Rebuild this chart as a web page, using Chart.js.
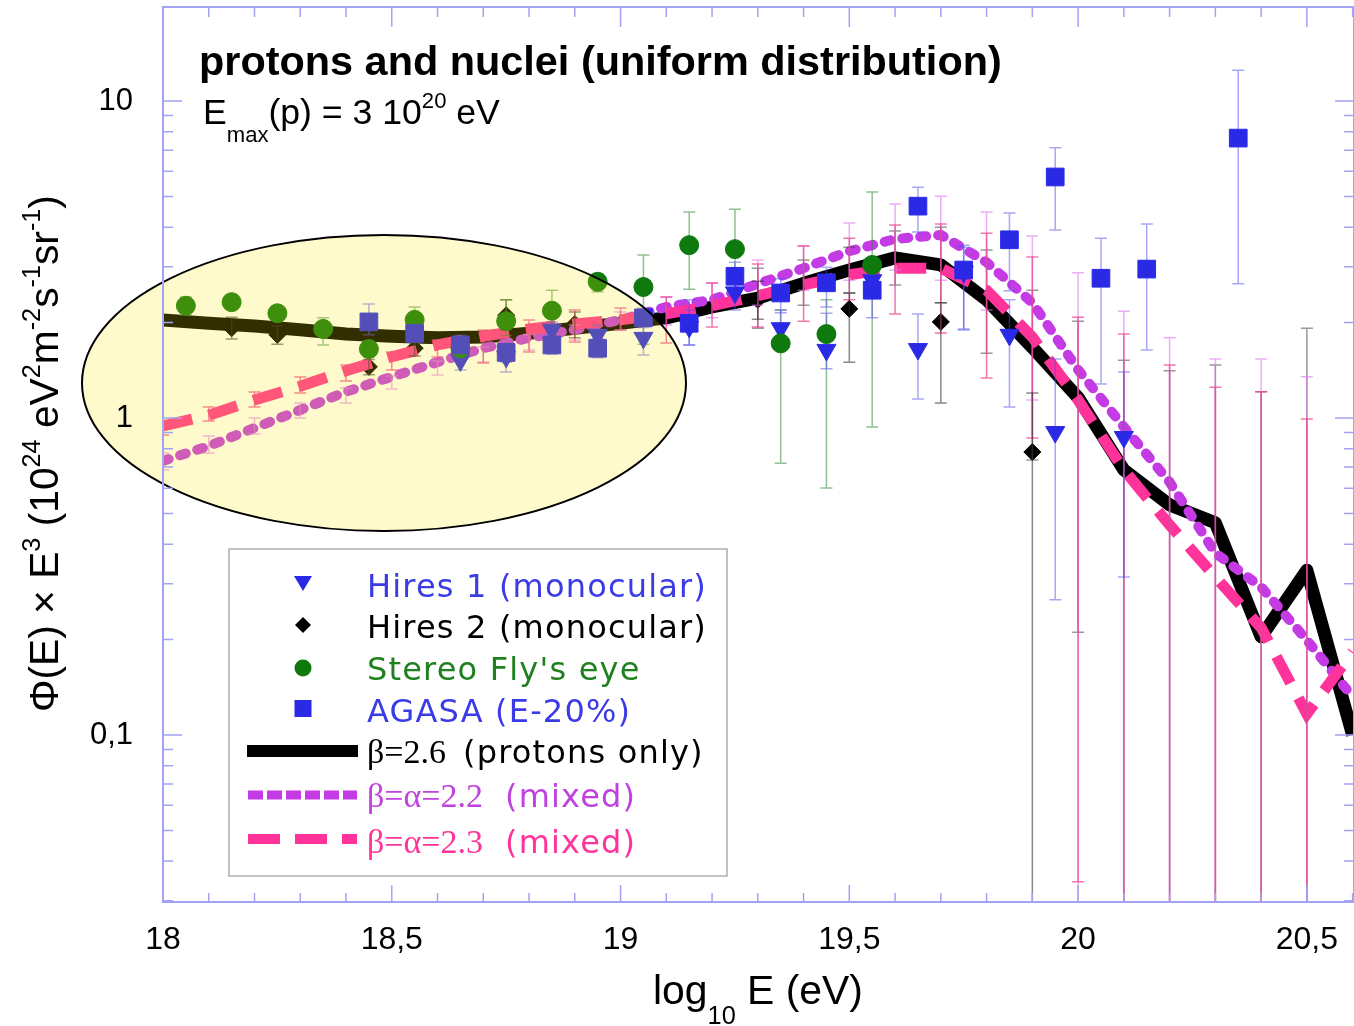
<!DOCTYPE html>
<html>
<head>
<meta charset="utf-8">
<script src="https://cdn.jsdelivr.net/npm/chart.js@4.4.0/dist/chart.umd.min.js"></script>
<style>
  html, body { margin: 0; padding: 0; background: #fff; }
</style>
</head>
<body>
<canvas id="grafico" width="1354" height="1026"></canvas>
<script>
// ====== DATA ======
// model grid, log10 E (eV)
const gridE = [18.0, 18.1, 18.2, 18.3, 18.4, 18.5, 18.6, 18.7, 18.8, 18.9,
  19.0, 19.1, 19.2, 19.3, 19.4, 19.5, 19.6, 19.7, 19.8, 19.9,
  20.0, 20.1, 20.2, 20.3, 20.4, 20.5, 20.6];

// beta = 2.6 (protons only)
const beta26 = [2.04, 1.99, 1.95, 1.90, 1.84, 1.81, 1.79, 1.80, 1.85, 1.92,
  1.99, 2.07, 2.24, 2.39, 2.66, 2.93, 3.20, 3.04, 2.36, 1.67,
  1.16, 0.686, 0.532, 0.467, 0.204, 0.331, 0.100];
const beta26Lo = [null, null, null, null, null, null, null, null, null, null,
  null, null, null, 1.92, 2.27, 2.48, 2.63, 2.31, 1.60, 0.737,
  0.211, 0, 0, 0, 0, 0, null];
const beta26Hi = [null, null, null, null, null, null, null, null, null, null,
  null, null, null, 2.97, 3.15, 3.46, 3.89, 4.0, 3.39, 2.53,
  2.02, 1.52, 1.41, 1.47, 1.21, 1.92, null];

// beta = alpha = 2.2 (mixed)
const mixed22 = [0.732, 0.816, 0.930, 1.06, 1.21, 1.35, 1.50, 1.66, 1.79, 1.90,
  2.04, 2.24, 2.36, 2.65, 2.97, 3.36, 3.67, 3.78, 3.10, 2.31,
  1.42, 0.937, 0.628, 0.375, 0.293, 0.199, 0.132];
const mixed22Lo = [0.685, 0.776, 0.890, 1.0, 1.115, 1.234, 1.366, 1.502, 1.64, 1.763,
  1.896, 1.965, 2.07, 2.27, 2.53, 2.72, 2.93, 2.72, 2.19, 1.14,
  0, 0, 0, 0, 0, 0, null];
const mixed22Hi = [0.776, 0.878, 1.0, 1.115, 1.243, 1.357, 1.513, 1.675, 1.83, 1.965,
  2.16, 2.408, 2.666, 3.15, 3.49, 4.12, 4.73, 5.01, 4.47, 3.75,
  2.87, 2.17, 1.79, 1.535, 1.535, 1.35, null];

// beta = alpha = 2.3 (mixed)
const mixed23 = [0.944, 1.02, 1.14, 1.26, 1.41, 1.56, 1.70, 1.81, 1.91, 1.98,
  2.04, 2.13, 2.26, 2.43, 2.63, 2.83, 2.97, 2.97, 2.53, 1.80,
  1.14, 0.686, 0.460, 0.315, 0.218, 0.1165, 0.183];
const mixed23Lo = [0.884, 0.978, 1.083, 1.199, 1.308, 1.417, 1.557, 1.491, 1.615, 1.737,
  1.896, 1.725, 1.937, 1.937, 2.02, 2.36, 2.13, 1.855, 1.337, 0.865,
  0.0344, 0, 0, 0, 0, 0, null];
const mixed23Hi = [0.971, 1.083, 1.208, 1.347, 1.470, 1.615, 1.763, 1.896, 2.037, 2.192,
  2.224, 2.408, 2.666, 3.06, 3.49, 3.69, 4.06, 4.09, 3.83, 3.22,
  2.08, 1.84, 1.47, 1.25, 1.21, 0.993, null];

// Hires 1 (monocular)
const hires1E = [18.65, 18.75, 18.85, 18.95, 19.05, 19.15, 19.25, 19.35, 19.45, 19.55, 19.65, 19.75, 19.85, 19.95, 20.1];
const hires1F = [1.52, 1.56, 1.90, 1.83, 1.79, 1.94, 2.49, 1.92, 1.64, 2.72, 1.65, 2.89, 1.83, 0.903, 0.871];
const hires1Lo = [1.417, 1.397, 1.76, 1.70, 1.58, 1.70, 2.19, 1.67, 1.43, 2.4, 1.148, 1.91, 1.083, 0.267, 0.315];
const hires1Hi = [1.615, 1.66, 2.01, 1.96, 2.04, 2.19, 2.83, 2.19, 2.14, 3.0, 2.13, 3.46, 2.36, 1.535, 1.397];

// Hires 2 (monocular)
const hires2E = [18.15, 18.25, 18.45, 18.55, 18.75, 18.9, 19.3, 19.5, 19.7, 19.9];
const hires2F = [1.92, 1.83, 1.45, 1.66, 2.11, 1.98, 2.36, 2.21, 2.01, 0.781];
const hires2Lo = [1.775, 1.71, 1.37, 1.57, 1.90, 1.79, 2.05, 1.50, 1.115, 0];
const hires2Hi = [2.08, 1.95, 1.53, 1.76, 2.36, 2.16, 2.70, 2.48, 2.31, 1.2];

// Stereo Fly's eye
const flyE = [18.05, 18.15, 18.25, 18.35, 18.45, 18.55, 18.65, 18.75, 18.85, 18.95, 19.05, 19.15, 19.25, 19.35, 19.45, 19.55];
const flyF = [2.26, 2.32, 2.14, 1.91, 1.65, 2.04, 1.66, 2.02, 2.18, 2.69, 2.59, 3.51, 3.41, 1.72, 1.84, 3.04];
const flyLo = [2.11, 2.20, 2.03, 1.70, 1.56, 1.85, 1.57, 1.82, 1.88, 2.50, 1.71, 2.55, 2.53, 0.72, 0.601, 0.937];
const flyHi = [2.41, 2.45, 2.25, 2.07, 1.75, 2.24, 1.76, 2.36, 2.53, 2.85, 3.27, 4.47, 4.56, 2.19, 2.36, 5.16];

// AGASA (E-20%)
const agasaE = [18.45, 18.55, 18.65, 18.75, 18.85, 18.95, 19.05, 19.15, 19.25, 19.35, 19.45, 19.55, 19.65, 19.75, 19.85, 19.95, 20.05, 20.15, 20.35];
const agasaF = [2.01, 1.85, 1.70, 1.61, 1.70, 1.66, 2.07, 1.99, 2.80, 2.48, 2.67, 2.53, 4.66, 2.93, 3.65, 5.76, 2.76, 2.95, 7.64];
const agasaLo = [1.83, 1.73, 1.59, 1.50, 1.59, 1.55, 1.93, 1.70, 2.50, 2.15, 2.24, 2.07, 3.86, 1.896, 2.52, 3.92, 1.28, 1.64, 2.65];
const agasaHi = [2.29, 1.98, 1.82, 1.72, 1.82, 1.78, 2.22, 2.36, 3.10, 2.75, 2.99, 2.78, 5.35, 3.51, 4.43, 7.12, 3.69, 4.09, 12.5];

// axes
const xTicks = [18, 18.5, 19, 19.5, 20, 20.5];
const yTicks = [0.1, 1, 10];
const xMin = 18, xMax = 20.603;
const yMin = 0.02972, yMax = 19.8;

// ====== STYLE ======
const SANS = '"Liberation Sans", Arial, Helvetica, sans-serif';
const WIDE = '"DejaVu Sans", Verdana, sans-serif';
const SERIF = '"Liberation Serif", "Times New Roman", serif';
const AXIS_COL = '#a3a3f5';
const BLUE = '#2a2ae6';
const GREEN = '#0e7a0e';
const PURPLE = '#c43be6';
const PINK = '#ff3399';

const pts = (xs, ys) => xs.map((x, i) => ({ x: x, y: ys[i] }));

// fits a text to a given width, returns the font size
function fitSize(ctx, text, weight, family, width) {
  ctx.font = weight + ' 100px ' + family;
  return 100 * width / ctx.measureText(text).width;
}

// text with sub/superscripts: parts = [[text, 0|1|-1], ...]
function richWidth(ctx, parts, family, size) {
  let w = 0;
  parts.forEach(([t, k]) => {
    ctx.font = (k ? size * 0.62 : size) + 'px ' + family;
    w += ctx.measureText(t).width;
  });
  return w;
}
function drawRich(ctx, parts, x, y, family, size) {
  let cx = x;
  parts.forEach(([t, k]) => {
    ctx.font = (k ? size * 0.62 : size) + 'px ' + family;
    const dy = k === 1 ? -size * 0.45 : (k === -1 ? size * 0.5 : 0);
    ctx.fillText(t, cx, y + dy);
    cx += ctx.measureText(t).width;
  });
}

function errorBars(chart, xs, lo, hi, color, cap) {
  const ctx = chart.ctx, sx = chart.scales.x, sy = chart.scales.y;
  ctx.strokeStyle = color;
  ctx.lineWidth = 1.5;
  xs.forEach((x, i) => {
    if (lo[i] == null) return;
    const px = sx.getPixelForValue(x);
    const yl = lo[i] > 0 ? sy.getPixelForValue(lo[i]) : chart.chartArea.bottom + 5;
    const yh = sy.getPixelForValue(hi[i]);
    ctx.beginPath();
    ctx.moveTo(px, yl); ctx.lineTo(px, yh);
    ctx.moveTo(px - cap, yh); ctx.lineTo(px + cap, yh);
    if (lo[i] > 0) { ctx.moveTo(px - cap, yl); ctx.lineTo(px + cap, yl); }
    ctx.stroke();
  });
}

// ====== DECORATION PLUGIN ======
const decor = {
  id: 'decor',
  beforeDraw(chart) {
    const ctx = chart.ctx;
    ctx.save();
    ctx.fillStyle = '#fff';
    ctx.fillRect(0, 0, chart.width, chart.height);
    ctx.restore();
  },
  afterDatasetDraw(chart, args) {
    // error bars go above the model curves, below the data markers
    if (chart.data.datasets[args.index].label !== 'β=α=2.3 (mixed)') return;
    const ctx = chart.ctx, a = chart.chartArea;
    ctx.save();
    ctx.beginPath();
    ctx.rect(a.left, a.top, a.right - a.left, a.bottom - a.top);
    ctx.clip();
    errorBars(chart, gridE, beta26Lo, beta26Hi, 'rgba(70,70,70,0.55)', 6);
    errorBars(chart, gridE, mixed22Lo, mixed22Hi, 'rgba(220,120,240,0.6)', 6);
    errorBars(chart, gridE, mixed23Lo, mixed23Hi, 'rgba(240,60,140,0.7)', 6);
    errorBars(chart, hires2E, hires2Lo, hires2Hi, 'rgba(40,40,40,0.55)', 6);
    errorBars(chart, flyE, flyLo, flyHi, 'rgba(40,130,40,0.5)', 6);
    errorBars(chart, hires1E, hires1Lo, hires1Hi, 'rgba(80,80,240,0.5)', 6);
    errorBars(chart, agasaE, agasaLo, agasaHi, 'rgba(80,80,240,0.5)', 6);
    ctx.restore();
  },
  afterDatasetsDraw(chart) {
    // highlighted low energy region
    const ctx = chart.ctx;
    ctx.save();
    ctx.beginPath();
    ctx.ellipse(384, 383, 302, 148, 0, 0, Math.PI * 2);
    ctx.fillStyle = 'rgba(255,230,0,0.2)';
    ctx.fill();
    ctx.lineWidth = 2;
    ctx.strokeStyle = '#000';
    ctx.stroke();
    ctx.restore();
  },
  afterDraw(chart) {
    const ctx = chart.ctx, a = chart.chartArea;
    const sx = chart.scales.x, sy = chart.scales.y;
    ctx.save();

    // frame + inward ticks
    ctx.strokeStyle = AXIS_COL;
    ctx.lineWidth = 2;
    ctx.strokeRect(a.left, a.top, a.right - a.left, a.bottom - a.top);
    ctx.lineWidth = 1.5;
    ctx.beginPath();
    for (let k = 0; k <= 26; k++) {
      const v = 18 + k / 10;
      const px = sx.getPixelForValue(v);
      const major = k % 5 === 0;
      ctx.moveTo(px, a.bottom); ctx.lineTo(px, a.bottom - (major ? 17 : 9));
      ctx.moveTo(px, a.top); ctx.lineTo(px, a.top + (major ? 20 : 10));
    }
    for (let d = -2; d <= 1; d++) {
      for (let m = 1; m <= 9; m++) {
        const v = m * Math.pow(10, d);
        if (v < yMin || v > yMax) continue;
        const py = sy.getPixelForValue(v);
        const len = m === 1 ? 19 : 10;
        ctx.moveTo(a.left, py); ctx.lineTo(a.left + len, py);
        ctx.moveTo(a.right, py); ctx.lineTo(a.right - len, py);
      }
    }
    ctx.stroke();

    // tick labels
    ctx.fillStyle = '#000';
    ctx.font = '32px ' + SANS;
    ctx.textAlign = 'center';
    ctx.textBaseline = 'middle';
    xTicks.forEach(v => {
      ctx.fillText(String(v).replace('.', ','), sx.getPixelForValue(v), 940);
    });
    ctx.textAlign = 'right';
    ctx.font = '31px ' + SANS;
    yTicks.forEach(v => {
      ctx.fillText(String(v).replace('.', ','), 133, sy.getPixelForValue(v));
    });

    // axis titles
    ctx.textAlign = 'left';
    ctx.textBaseline = 'alphabetic';
    const xTitle = [['log', 0], ['10', -1], [' E (eV)', 0]];
    let s = 34;
    s = s * 210 / richWidth(ctx, xTitle, SANS, s);
    drawRich(ctx, xTitle, 653, 1004, SANS, s);

    const yTitle = [['Φ(E) × E', 0], ['3', 1], [' (10', 0], ['24', 1], [' eV', 0], ['2', 1],
      ['m', 0], ['-2', 1], ['s', 0], ['-1', 1], ['sr', 0], ['-1', 1], [')', 0]];
    s = 34;
    s = s * 517 / richWidth(ctx, yTitle, SANS, s);
    ctx.save();
    ctx.translate(58, 712);
    ctx.rotate(-Math.PI / 2);
    drawRich(ctx, yTitle, 0, 0, SANS, s);
    ctx.restore();

    // titles inside the plot
    const title = 'protons and nuclei (uniform distribution)';
    s = fitSize(ctx, title, 'bold', SANS, 803);
    ctx.font = 'bold ' + s + 'px ' + SANS;
    ctx.fillText(title, 199, 75);

    const emax = [['E', 0], ['max', -1], ['(p) = 3 10', 0], ['20', 1], [' eV', 0]];
    s = 32;
    s = s * 297 / richWidth(ctx, emax, SANS, s);
    drawRich(ctx, emax, 203, 124, SANS, s);

    // legend
    ctx.fillStyle = '#fff';
    ctx.fillRect(229, 549, 498, 327);
    ctx.strokeStyle = '#999';
    ctx.lineWidth = 1.2;
    ctx.strokeRect(229, 549, 498, 327);

    const mx = 303;
    // markers
    ctx.fillStyle = BLUE;
    ctx.beginPath();
    ctx.moveTo(mx - 9, 576); ctx.lineTo(mx + 9, 576); ctx.lineTo(mx, 591); ctx.closePath();
    ctx.fill();
    ctx.fillStyle = '#000';
    ctx.beginPath();
    ctx.moveTo(mx - 8, 625); ctx.lineTo(mx, 617); ctx.lineTo(mx + 8, 625); ctx.lineTo(mx, 633); ctx.closePath();
    ctx.fill();
    ctx.fillStyle = GREEN;
    ctx.beginPath();
    ctx.arc(mx, 668, 8.5, 0, Math.PI * 2);
    ctx.fill();
    ctx.fillStyle = BLUE;
    ctx.fillRect(mx - 8.5, 700, 17, 17);
    // lines
    ctx.lineCap = 'butt';
    ctx.strokeStyle = '#000';
    ctx.lineWidth = 12;
    ctx.beginPath(); ctx.moveTo(247, 751); ctx.lineTo(358, 751); ctx.stroke();
    ctx.strokeStyle = PURPLE;
    ctx.lineWidth = 9;
    ctx.setLineDash([15, 4]);
    ctx.beginPath(); ctx.moveTo(248, 795); ctx.lineTo(357, 795); ctx.stroke();
    ctx.strokeStyle = PINK;
    ctx.lineWidth = 10;
    ctx.setLineDash([32, 15]);
    ctx.beginPath(); ctx.moveTo(248, 839); ctx.lineTo(357, 839); ctx.stroke();
    ctx.setLineDash([]);

    // legend text
    const lsz = 32;
    ctx.font = lsz + 'px ' + WIDE;
    const ref = 'Hires 1 (monocular)';
    const extra = Math.max(0, (340 - ctx.measureText(ref).width) / ref.length);
    const sansText = (t, x, y, col) => {
      ctx.font = lsz + 'px ' + WIDE;
      ctx.letterSpacing = extra.toFixed(2) + 'px';
      ctx.fillStyle = col;
      ctx.fillText(t, x, y);
      ctx.letterSpacing = '0px';
    };
    const serifText = (t, x, y, col) => {
      ctx.font = '34px ' + SERIF;
      ctx.fillStyle = col;
      ctx.fillText(t, x, y);
    };
    sansText('Hires 1 (monocular)', 367, 597, '#3a3ae6');
    sansText('Hires 2 (monocular)', 367, 638, '#000');
    sansText("Stereo Fly's eye", 367, 680, '#1f801f');
    sansText('AGASA (E-20%)', 367, 722, '#3a3ae6');
    serifText('β=2.6', 367, 763, '#000');
    sansText('(protons only)', 463, 763, '#000');
    serifText('β=α=2.2', 367, 807, '#c040e0');
    sansText('(mixed)', 505, 807, '#c040e0');
    serifText('β=α=2.3', 367, 853, PINK);
    sansText('(mixed)', 505, 853, PINK);

    ctx.restore();
  }
};

// ====== CHART ======
const ctx = document.getElementById('grafico').getContext('2d');

new Chart(ctx, {
  type: 'scatter',
  data: {
    datasets: [
      {
        label: 'Hires 2 (monocular)', data: pts(hires2E, hires2F),
        pointStyle: 'rectRot', pointRadius: 8.5, backgroundColor: '#000', borderColor: '#000', borderWidth: 1, order: 12
      },
      {
        type: 'line', label: 'β=2.6 (protons only)', data: pts(gridE, beta26),
        borderColor: '#000', borderWidth: 13, pointRadius: 0, tension: 0, fill: false,
        borderJoinStyle: 'round', order: 10
      },
      {
        type: 'line', label: 'β=α=2.2 (mixed)', data: pts(gridE, mixed22),
        borderColor: PURPLE, borderWidth: 10, borderDash: [6, 12], borderCapStyle: 'round',
        pointRadius: 0, tension: 0, fill: false, order: 9
      },
      {
        type: 'line', label: 'β=α=2.3 (mixed)', data: pts(gridE, mixed23),
        borderColor: PINK, borderWidth: 11, borderDash: [30, 17], pointRadius: 0, tension: 0, fill: false, order: 8
      },
      {
        label: 'Hires 1 (monocular)', data: pts(hires1E, hires1F),
        pointStyle: 'triangle', pointRotation: 180, pointRadius: 11, backgroundColor: BLUE, borderColor: BLUE, borderWidth: 1, order: 4
      },
      {
        label: "Stereo Fly's eye", data: pts(flyE, flyF),
        pointStyle: 'circle', pointRadius: 9.5, backgroundColor: GREEN, borderColor: GREEN, borderWidth: 1, order: 3
      },
      {
        label: 'AGASA (E-20%)', data: pts(agasaE, agasaF),
        pointStyle: 'rect', pointRadius: 12.5, backgroundColor: BLUE, borderColor: BLUE, borderWidth: 1, order: 1
      }
    ]
  },
  options: {
    responsive: false,
    animation: false,
    devicePixelRatio: 1,
    layout: { autoPadding: false, padding: { top: 7, right: 0, bottom: 0, left: 0 } },
    plugins: { legend: { display: false }, tooltip: { enabled: false } },
    scales: {
      x: {
        type: 'linear', min: xMin, max: xMax,
        grid: { display: false, drawTicks: false }, border: { display: false },
        ticks: { display: false },
        afterFit: s => { s.height = 124; }
      },
      y: {
        type: 'logarithmic', min: yMin, max: yMax,
        grid: { display: false, drawTicks: false }, border: { display: false },
        ticks: { display: false },
        afterFit: s => { s.width = 163; }
      }
    }
  },
  plugins: [decor]
});
</script>
</body>
</html>
